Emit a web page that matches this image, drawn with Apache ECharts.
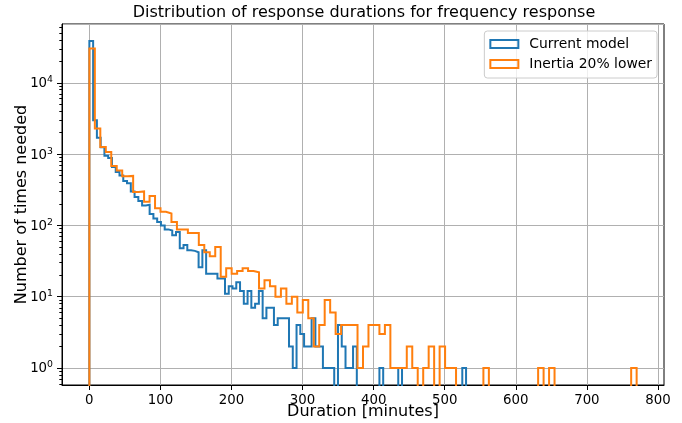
<!DOCTYPE html>
<html><head><meta charset="utf-8">
<script src="https://cdn.jsdelivr.net/npm/echarts@6/dist/echarts.min.js"></script>
<style>html,body{margin:0;padding:0;background:#fff}#c{width:682px;height:423px}</style>
</head><body><div id="c"></div>
<script>
// ---- data ----
const titleText = 'Distribution of response durations for frequency response';
const xAxisTitle = 'Duration [minutes]';
const yAxisTitle = 'Number of times needed';
const seriesNames = ['Current model', 'Inertia 20% lower'];
const blueBinWidth = 5.3;   // minutes per bin (100 bins)
const orangeBinWidth = 7.7; // minutes per bin (100 bins)
const blueCounts = [38500, 2990, 1700, 1250, 950, 880, 660, 560, 500, 420,
  390, 300, 250, 220, 190, 195, 145, 125, 112, 100,
  88, 85, 73, 81, 48, 53, 45, 44, 42, 26,
  45, 21, 21, 21, 18, 18, 11, 14, 13, 16,
  12, 8, 12, 7, 8, 12, 5, 7, 7, 4,
  5, 5, 5, 2, 1, 4, 3, 2, 2, 5,
  2, 2, 1, 1, 1, 0, 4, 2, 1, 1,
  2, 0, 0, 0, 0, 0, 0, 1, 0, 0,
  0, 0, 1, 0, 0, 0, 0, 0, 0, 0,
  0, 0, 0, 0, 0, 0, 0, 0, 0, 1];
const orangeCounts = [30400, 2290, 1260, 1070, 680, 590, 490, 495, 295, 300,
  215, 258, 174, 155, 147, 112, 88, 88, 78, 78,
  53, 42, 37, 50, 19, 25, 21, 23, 25, 23,
  22, 13, 17, 14, 10, 13, 8, 10, 6, 9,
  5, 2, 4, 9, 6, 3, 4, 4, 4, 1,
  2, 4, 4, 3, 4, 1, 1, 1, 2, 1,
  0, 1, 2, 0, 2, 1, 1, 0, 0, 0,
  0, 0, 1, 0, 0, 0, 0, 0, 0, 0,
  0, 0, 1, 0, 1, 0, 0, 0, 0, 0,
  0, 0, 0, 0, 0, 0, 0, 0, 0, 1];
const xTicks = [0, 100, 200, 300, 400, 500, 600, 700, 800];
const yMajorExps = [0, 1, 2, 3, 4];
const yMinorMultipliers = [2, 3, 4, 5, 6, 7, 8, 9];
const xRange = [-38.5, 808.5];
const yExpRange = [-0.238, 4.825];

// ---- build ----
const FONT = 'DejaVu Sans';
const FLOOR = 1e-3;
function stepPoints(counts, bw) {
  const pts = [[0, FLOOR]];
  counts.forEach((c, i) => {
    const y = c > 0 ? c : FLOOR;
    pts.push([i * bw, y], [(i + 1) * bw, y]);
  });
  pts.push([counts.length * bw, FLOOR]);
  return pts;
}
const minorExps = [];
for (let e = -1; e <= 4; e++) {
  yMinorMultipliers.forEach(m => {
    const v = Math.log10(m) + e;
    if (v > yExpRange[0] && v < yExpRange[1]) minorExps.push(v);
  });
}
const colors = ['#1f77b4', '#ff7f0e'];
const chart = echarts.init(document.getElementById('c'), null, {renderer: 'canvas'});
const decorY = (ticks, len) => ({
  type: 'value', position: 'left', min: yExpRange[0], max: yExpRange[1],
  axisLine: {show: false, onZero: false}, splitLine: {show: false},
  axisLabel: {show: false},
  axisTick: {show: true, customValues: ticks, length: len, lineStyle: {color: '#000', width: 1}}
});
chart.setOption({
  animation: false,
  backgroundColor: '#fff',
  title: {
    text: titleText, left: 364, top: 3, textAlign: 'center', padding: 0,
    textStyle: {fontFamily: FONT, fontSize: 16, fontWeight: 'normal', color: '#000', lineHeight: 20}
  },
  grid: {left: 62, right: 18, top: 24, bottom: 38, show: true, borderColor: '#000', borderWidth: 1, backgroundColor: 'transparent', containLabel: false, outerBoundsMode: 'none'},
  legend: {
    orient: 'vertical', right: 25, top: 31, padding: [5, 5, 6, 5], itemGap: 4,
    itemWidth: 28, itemHeight: 8,
    backgroundColor: 'rgba(255,255,255,0.8)', borderColor: '#cccccc', borderWidth: 1, borderRadius: 3,
    textStyle: {fontFamily: FONT, fontSize: 13.9, color: '#000', lineHeight: 16, padding: [0, 0, 0, 6]},
    data: seriesNames.map((n, i) => ({name: n, icon: 'rect', itemStyle: {color: 'rgba(0,0,0,0)', borderColor: colors[i], borderWidth: 2}}))
  },
  xAxis: {
    type: 'value', min: xRange[0], max: xRange[1],
    name: xAxisTitle, nameLocation: 'middle', nameGap: 19, nameMoveOverlap: false,
    nameTextStyle: {fontFamily: FONT, fontSize: 16, color: '#000'},
    axisLine: {show: true, onZero: false, lineStyle: {color: '#000', width: 1}},
    axisTick: {show: true, customValues: xTicks, length: 5, lineStyle: {color: '#000', width: 1}},
    axisLabel: {customValues: xTicks, margin: 9, fontFamily: FONT, fontSize: 13.33, color: '#000'},
    splitLine: {show: true, lineStyle: {color: '#b0b0b0', width: 1}}
  },
  yAxis: [
    {
      type: 'log', logBase: 10, min: Math.pow(10, yExpRange[0]), max: Math.pow(10, yExpRange[1]),
      position: 'left',
      name: yAxisTitle, nameLocation: 'middle', nameGap: 32, nameRotate: 90, nameMoveOverlap: false,
      nameTextStyle: {fontFamily: FONT, fontSize: 16, color: '#000'},
      axisLine: {show: true, onZero: false, lineStyle: {color: '#000', width: 1}},
      axisTick: {show: false},
      axisLabel: {
        margin: 9,
        formatter: v => {
          const l = Math.log10(v), e = Math.round(l);
          if (Math.abs(l - e) > 1e-6) return '';
          return '{b|10}{s|' + e + '}';
        },
        rich: {
          b: {fontFamily: FONT, fontSize: 13.33, color: '#000', lineHeight: 15, verticalAlign: 'bottom'},
          s: {fontFamily: FONT, fontSize: 9.3, color: '#000', lineHeight: 10, verticalAlign: 'top', padding: [0, 0, 8, 0]}
        }
      },
      splitLine: {show: true, lineStyle: {color: '#b0b0b0', width: 1}}
    },
    decorY(yMajorExps, 5),
    decorY(minorExps, 2.7)
  ],
  series: [
    {name: seriesNames[0], type: 'line', data: stepPoints(blueCounts, blueBinWidth), showSymbol: false, symbol: 'none',
     lineStyle: {color: colors[0], width: 2, join: 'miter', cap: 'butt'}, itemStyle: {color: colors[0]}, clip: true, z: 2},
    {name: seriesNames[1], type: 'line', data: stepPoints(orangeCounts, orangeBinWidth), showSymbol: false, symbol: 'none',
     lineStyle: {color: colors[1], width: 2, join: 'miter', cap: 'butt'}, itemStyle: {color: colors[1]}, clip: true, z: 3}
  ]
});
</script></body></html>
